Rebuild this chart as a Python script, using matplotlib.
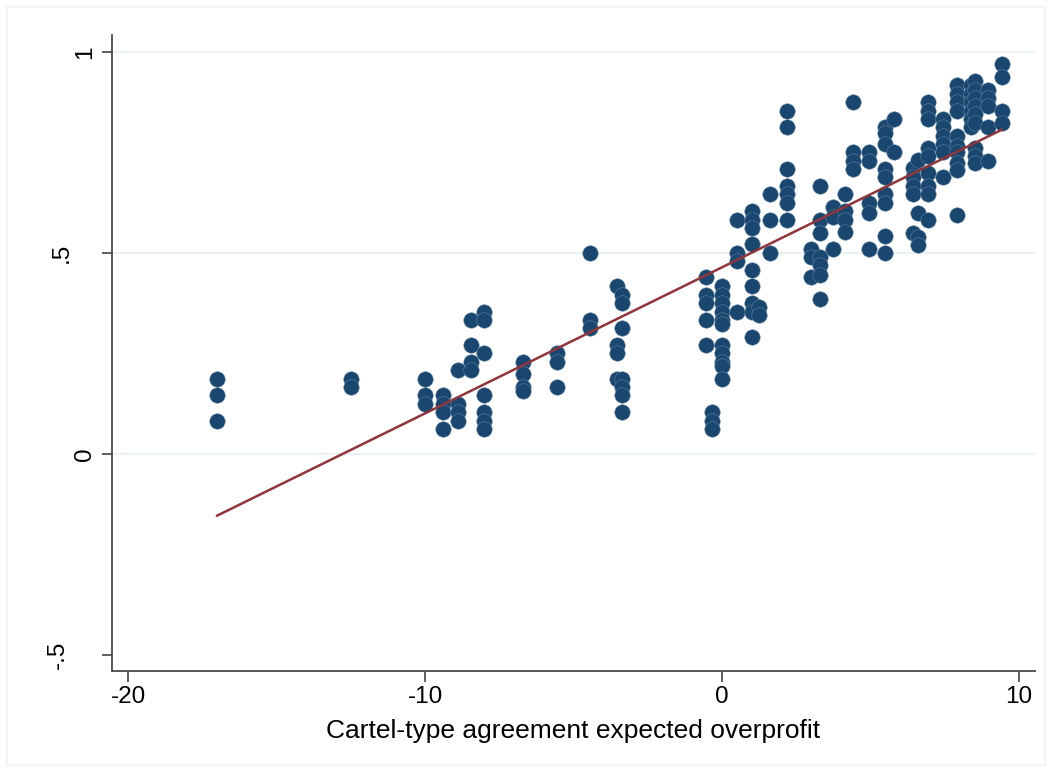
import numpy as np
import matplotlib
matplotlib.use("Agg")
import matplotlib.pyplot as plt
from matplotlib.patches import Rectangle
from matplotlib.transforms import blended_transform_factory

plt.rcParams['font.family'] = ['Liberation Sans', 'DejaVu Sans']

# Expected overprofit of the cartel-type agreement (one entry per distinct value)
overprofit_levels = [-17.0, -12.5, -10.0, -9.4, -8.9, -8.45, -8.0, -6.7, -5.57,
                     -4.44, -3.53, -3.38, -0.54, -0.35, 0.0, 0.52, 1.0, 1.25,
                     1.6, 2.2, 3.0, 3.3, 3.73, 4.14, 4.42, 4.96, 5.49, 5.79,
                     6.44, 6.6, 6.95, 7.45, 7.9, 8.4, 8.52, 8.97, 9.42]

# Observed agreement shares at each overprofit level
share_by_level = [
    [0.1875, 0.146, 0.083],
    [0.1875, 0.167],
    [0.1875, 0.146, 0.125],
    [0.146, 0.125, 0.104, 0.0625],
    [0.208, 0.125, 0.104, 0.083],
    [0.333, 0.271, 0.229, 0.208],
    [0.354, 0.333, 0.25, 0.146, 0.104, 0.083, 0.0625],
    [0.229, 0.198, 0.167, 0.156],
    [0.25, 0.229, 0.167],
    [0.5, 0.333, 0.313],
    [0.417, 0.271, 0.25, 0.1875],
    [0.396, 0.375, 0.313, 0.1875, 0.167, 0.146, 0.104],
    [0.44, 0.396, 0.375, 0.333, 0.271],
    [0.104, 0.083, 0.0625],
    [0.417, 0.396, 0.375, 0.354, 0.333, 0.323, 0.271, 0.25, 0.229, 0.219, 0.1875],
    [0.583, 0.5, 0.479, 0.354],
    [0.604, 0.583, 0.5625, 0.521, 0.458, 0.417, 0.375, 0.354, 0.292],
    [0.365, 0.346],
    [0.646, 0.583, 0.5],
    [0.854, 0.813, 0.708, 0.667, 0.646, 0.625, 0.583],
    [0.51, 0.49, 0.44],
    [0.667, 0.583, 0.55, 0.49, 0.47, 0.445, 0.385],
    [0.615, 0.59, 0.51],
    [0.646, 0.604, 0.583, 0.553],
    [0.875, 0.75, 0.729, 0.708],
    [0.75, 0.729, 0.625, 0.6, 0.51],
    [0.813, 0.797, 0.771, 0.708, 0.688, 0.646, 0.625, 0.542, 0.5],
    [0.833, 0.75],
    [0.71, 0.69, 0.667, 0.646, 0.55],
    [0.73, 0.6, 0.54, 0.52],
    [0.875, 0.854, 0.833, 0.76, 0.74, 0.698, 0.667, 0.646, 0.583],
    [0.833, 0.813, 0.792, 0.771, 0.75, 0.688],
    [0.917, 0.896, 0.875, 0.854, 0.792, 0.767, 0.75, 0.723, 0.706, 0.594],
    [0.917, 0.896, 0.875, 0.854, 0.833, 0.813],
    [0.927, 0.906, 0.885, 0.865, 0.845, 0.823, 0.76, 0.74, 0.723],
    [0.906, 0.885, 0.865, 0.813, 0.729],
    [0.969, 0.938, 0.854, 0.823],
]

x_ticks = [-20, -10, 0, 10]
x_tick_labels = ['-20', '-10', '0', '10']
y_ticks = [-0.5, 0, 0.5, 1]
y_tick_labels = ['-.5', '0', '.5', '1']
x_title = 'Cartel-type agreement expected overprofit'

x = np.concatenate([[lv] * len(ys) for lv, ys in zip(overprofit_levels, share_by_level)])
y = np.concatenate([np.asarray(ys, dtype=float) for ys in share_by_level])

# Linear fit over the observed range
slope, intercept = np.polyfit(x, y, 1)
fit_x = np.array([x.min(), x.max()])
fit_y = intercept + slope * fit_x

NAVY = '#1a476f'
MAROON = '#90353b'
W, H = 1052, 772

fig = plt.figure(figsize=(W / 100, H / 100), dpi=100)
fig.patch.set_facecolor('white')
fig.patches.append(Rectangle((7 / W, 7 / H), 1 - 14 / W, 1 - 14 / H,
                             transform=fig.transFigure, fill=False,
                             edgecolor='#f4f4f4', linewidth=1.5))

ax = fig.add_axes([112 / W, 1 - 671 / H, (1035 - 112) / W, (671 - 35) / H])
ax.set_xlim(-20.54, 10.54)
ax.set_ylim(-0.54, 1.042)

for gy in [0, 0.5, 1]:
    ax.axhline(gy, color='#eaf1f3', linewidth=1.6, zorder=0)

ax.scatter(x, y, s=124, color=NAVY, edgecolors='#6a8aa5', linewidths=0.35, zorder=2)
ax.plot(fit_x, fit_y, color=MAROON, linewidth=1.8, zorder=3)

for side in ['top', 'right']:
    ax.spines[side].set_visible(False)
for side in ['left', 'bottom']:
    ax.spines[side].set_color('#4a4a4a')
    ax.spines[side].set_linewidth(1.3)

ax.set_xticks(x_ticks)
ax.set_xticklabels(x_tick_labels)
ax.set_yticks(y_ticks)
ax.set_yticklabels([])
ax.tick_params(axis='both', width=1.1, color='#333333', labelcolor='black')
ax.tick_params(axis='x', length=8, labelsize=17.5, pad=2.5)
ax.tick_params(axis='y', length=7.5)

# vertical y-axis labels, positioned per label in figure pixels
ylab_tf = blended_transform_factory(fig.transFigure, ax.transData)
ylab_center_px = {'-.5': 58, '0': 85, '.5': 62, '1': 85}
for val, lab in zip(y_ticks, y_tick_labels):
    ax.text(ylab_center_px[lab] / W, val, lab, transform=ylab_tf, rotation=90,
            ha='center', va='center', fontsize=17.5, color='black', clip_on=False)

ax.set_xlabel(x_title, fontsize=19)
ax.xaxis.set_label_coords(573.5 / W, 1 - 719 / H, transform=fig.transFigure)

fig.savefig('out.png', dpi=100, facecolor='white')
